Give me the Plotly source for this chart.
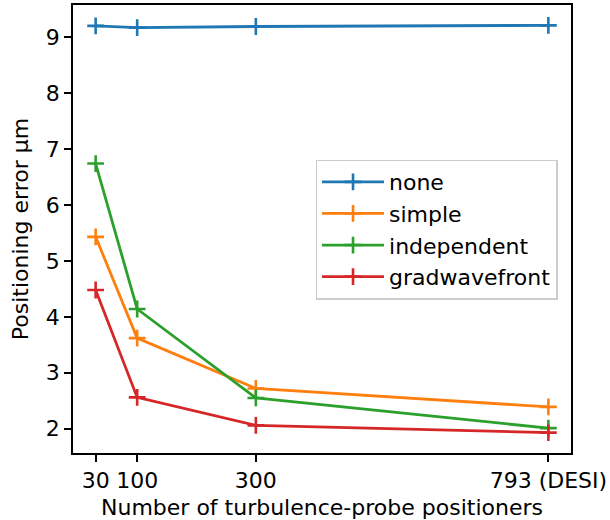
import plotly.graph_objects as go

x_vals = [30, 100, 300, 793]
x_ticktext = ["30", "100", "300", "793 (DESI)"]
series_names = ["none", "simple", "independent", "gradwavefront"]
none_vals = [9.20, 9.17, 9.19, 9.21]
simple_vals = [5.43, 3.62, 2.72, 2.39]
independent_vals = [6.74, 4.14, 2.55, 2.01]
gradwavefront_vals = [4.48, 2.56, 2.06, 1.93]
y_ticks = [2, 3, 4, 5, 6, 7, 8, 9]

colors = ["#1f77b4", "#ff7f0e", "#2ca02c", "#d62728"]
all_vals = [none_vals, simple_vals, independent_vals, gradwavefront_vals]

fig = go.Figure()
for name, vals, c in zip(series_names, all_vals, colors):
    fig.add_trace(go.Scatter(
        x=x_vals, y=vals, name=name, mode="lines+markers",
        line=dict(color=c, width=2.8),
        marker=dict(symbol="cross-thin", size=12, line=dict(color=c, width=2.6)),
    ))

xmin, xmax = min(x_vals), max(x_vals)
xpad = 0.05 * (xmax - xmin)
allv = [v for s in all_vals for v in s]
ymin, ymax = min(allv), max(allv)
ypad = 0.05 * (ymax - ymin)

font = dict(family="DejaVu Sans", size=22, color="black")
fig.update_layout(
    width=610, height=520,
    margin=dict(l=73, r=37, t=3, b=67),
    paper_bgcolor="white", plot_bgcolor="white",
    font=font,
    showlegend=True,
    legend=dict(
        x=0.487, y=0.655, xanchor="left", yanchor="top",
        bgcolor="rgba(255,255,255,0.8)", bordercolor="#cccccc", borderwidth=1.5,
        font=font, tracegroupgap=0, itemwidth=62,
    ),
    xaxis=dict(
        range=[xmin - xpad, xmax + xpad], tickvals=x_vals, ticktext=x_ticktext,
        showgrid=False, zeroline=False, showline=True, linecolor="black", linewidth=1.5,
        mirror=True, ticks="outside", ticklen=7, tickwidth=1.5, tickcolor="black",
        title=dict(text="Number of turbulence-probe positioners", standoff=7, font=font),
    ),
    yaxis=dict(
        range=[ymin - ypad, ymax + ypad], tickvals=y_ticks,
        showgrid=False, zeroline=False, showline=True, linecolor="black", linewidth=1.5,
        mirror=True, ticks="outside", ticklen=7, tickwidth=1.5, tickcolor="black",
        title=dict(text="Positioning error μm", standoff=11, font=font),
    ),
)
fig.write_html("out.html")
